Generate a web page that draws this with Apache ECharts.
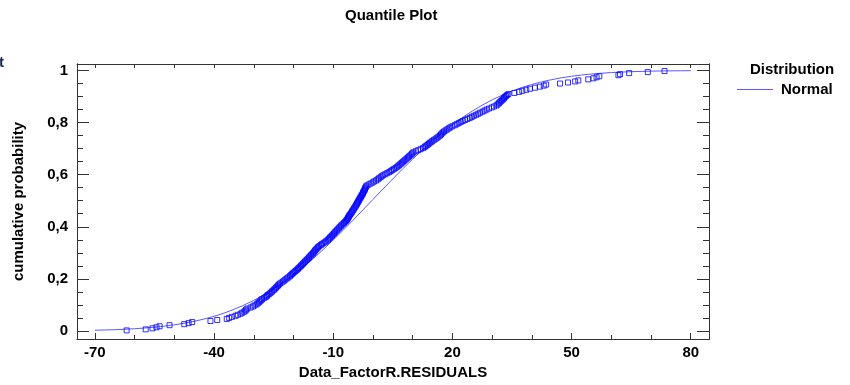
<!DOCTYPE html>
<html>
<head>
<meta charset="utf-8">
<script src="https://cdn.jsdelivr.net/npm/echarts@6/dist/echarts.min.js"></script>
<style>html,body{margin:0;padding:0;background:#fff}#c{width:850px;height:385px}</style>
</head>
<body>
<div id="c"></div>
<script>
// Sorted residuals
const residuals = [
 -62.0,-57.2,-55.5,-54.5,-53.7,-51.2,-47.5,-46.4,-45.5,-40.9,-39.2,
 -36.8,-36.2,-35.5,-34.6,-34.0,-33.3,-32.9,-32.4,-32.1,-31.9,-31.6,-30.8,-30.2,-29.8,-29.3,
 -29.0,-28.7,-28.4,-28.1,-27.9,-27.4,-27.0,-26.7,-26.5,-26.1,-25.8,-25.5,
 -25.3,-24.9,-24.7,-24.4,-24.2,-23.9,-23.7,-23.4,
 -23.0,-22.6,-22.3,-22.0,-21.6,-21.3,-20.9,
 -20.7,-20.4,-20.1,-19.8,-19.5,-19.2,-18.9,-18.7,-18.4,
 -18.1,-17.9,-17.6,-17.4,-17.1,-16.9,-16.6,-16.3,-16.1,-15.9,
 -15.6,-15.4,-15.1,-14.9,-14.7,-14.5,-14.3,-14.0,-13.8,
 -13.5,-13.1,-12.8,-12.4,-12.0,-11.7,-11.3,
 -11.1,-10.8,-10.6,-10.3,-10.1,-9.8,-9.6,-9.4,-9.1,
 -8.9,-8.6,-8.4,-8.1,-7.9,-7.6,-7.3,-7.1,-6.8,-6.6,
 -6.4,-6.3,-6.1,-6.0,-5.8,-5.6,-5.4,-5.3,-5.1,-4.9,-4.8,-4.6,-4.4,
 -4.3,-4.1,-4.0,-3.8,-3.7,-3.5,-3.4,-3.2,-3.1,-2.9,-2.8,
 -2.6,-2.5,-2.4,-2.2,-2.1,-2.0,-1.9,-1.7,-1.6,
 -1.1,-0.6,-0.1,0.3,0.8,1.2,1.5,1.9,2.2,
 2.6,3.1,3.6,4.1,4.5,4.9,5.3,5.7,6.1,6.4,6.7,7.0,7.3,7.6,7.9,
 8.2,8.5,8.8,9.1,9.4,9.7,9.9,10.2,
 10.8,11.4,12.0,12.6,
 13.0,13.3,13.7,14.0,14.3,14.7,
 15.0,15.4,15.8,16.2,16.5,16.9,
 17.1,17.3,17.6,17.9,18.3,18.7,19.1,19.5,
 20.0,20.6,21.1,21.6,22.1,
 22.6,23.2,23.8,
 24.4,24.9,25.4,26.0,
 26.5,27.0,27.6,28.1,28.6,
 29.2,29.9,30.5,31.1,
 31.4,31.7,31.9,32.2,32.5,32.8,
 33.0,33.2,33.5,33.8,34.1,
 35.6,36.8,37.6,38.6,39.5,40.8,42.0,43.0,43.6,
 47.1,49.1,50.9,51.7,54.2,55.5,56.3,57.0,61.8,62.2,64.5,69.2,73.4
];

// Fitted normal distribution curve
const normalX = [-70,-67.5,-65,-62.5,-60,-57.5,-55,-52.5,-50,-47.5,-45,-42.5,-40,-37.5,-35,-32.5,-30,-27.5,-25,-22.5,-20,-17.5,-15,-12.5,-10,-7.5,-5,-2.5,0,2.5,5,7.5,10,12.5,15,17.5,20,22.5,25,27.5,30,32.5,35,37.5,40,42.5,45,47.5,50,52.5,55,57.5,60,62.5,65,67.5,70,72.5,75,77.5,80];
const normalP = [0.0027,0.0036,0.0048,0.0064,0.0085,0.0111,0.0143,0.0184,0.0234,0.0295,0.0369,0.0457,0.0561,0.0683,0.0826,0.0989,0.1174,0.1383,0.1616,0.1873,0.2154,0.2458,0.2783,0.3129,0.3490,0.3866,0.4254,0.4650,0.5048,0.5445,0.5839,0.6225,0.6598,0.6958,0.7297,0.7617,0.7916,0.8192,0.8442,0.8668,0.8872,0.9052,0.9210,0.9347,0.9465,0.9565,0.9650,0.9721,0.9779,0.9827,0.9865,0.9896,0.9921,0.9940,0.9955,0.9966,0.9975,0.9982,0.9987,0.9991,0.9993];

const xMajorTicks = [-70,-40,-10,20,50,80];
const xMinorTicks = [-70,-60,-50,-40,-30,-20,-10,0,10,20,30,40,50,60,70,80];
const yMajorTicks = [0,0.2,0.4,0.6,0.8,1];
const yTickLabels = ['0','0,2','0,4','0,6','0,8','1'];
const yMinorTicks = [0,0.05,0.1,0.15,0.2,0.25,0.3,0.35,0.4,0.45,0.5,0.55,0.6,0.65,0.7,0.75,0.8,0.85,0.9,0.95,1];

const n = residuals.length;
const ecdf = residuals.map((x, i) => [x, (i + 0.5) / n]);
const curve = normalX.map((x, i) => [x, normalP[i]]);

const FONT = 'Liberation Sans';
const XMIN = -74.5, XMAX = 84.6, YMIN = -0.031, YMAX = 1.025;
const frame = {show: true, onZero: false, lineStyle: {color: '#333', width: 1}};
const none = {show: false};

function xAx(pos, ticks, len, extra) {
  return Object.assign({
    type: 'value', position: pos, min: XMIN, max: XMAX, gridIndex: 0,
    axisLine: frame, splitLine: none,
    axisTick: {show: true, inside: true, length: len, customValues: ticks, lineStyle: {color: '#333'}},
    axisLabel: {show: false}
  }, extra || {});
}
function yAx(pos, ticks, len, extra) {
  return Object.assign({
    type: 'value', position: pos, min: YMIN, max: YMAX, gridIndex: 0,
    axisLine: frame, splitLine: none,
    axisTick: {show: true, inside: true, length: len, customValues: ticks, lineStyle: {color: '#333'}},
    axisLabel: {show: false}
  }, extra || {});
}

const chart = echarts.init(document.getElementById('c'), null, {renderer: 'canvas'});
chart.setOption({
  animation: false,
  backgroundColor: '#fff',
  title: {
    text: 'Quantile Plot', left: 340, top: 3,
    textStyle: {fontFamily: FONT, fontWeight: 'bold', fontSize: 15, color: '#000'}
  },
  legend: {
    left: 732, top: 77, orient: 'vertical',
    data: [{name: 'Normal', icon: 'rect'}],
    itemWidth: 36, itemHeight: 1.2,
    textStyle: {fontFamily: FONT, fontWeight: 'bold', fontSize: 15, color: '#000', padding: [0, 0, 0, 3]}
  },
  graphic: [
    {type: 'text', left: 750, top: 62, style: {text: 'Distribution', fontFamily: FONT, fontWeight: 'bold', fontSize: 15, fill: '#000'}},
    {type: 'text', left: -1, top: 55, style: {text: 't', fontFamily: FONT, fontWeight: 'bold', fontSize: 15, fill: '#1a2a4a'}}
  ],
  grid: {left: 77, top: 64, width: 632, height: 275, containLabel: false},
  xAxis: [
    xAx('bottom', xMajorTicks, 6, {
      axisLabel: {show: true, customValues: xMajorTicks, margin: 6, fontFamily: FONT, fontWeight: 'bold', fontSize: 15, color: '#000'},
      name: 'Data_FactorR.RESIDUALS', nameLocation: 'middle', nameGap: 25,
      nameTextStyle: {fontFamily: FONT, fontWeight: 'bold', fontSize: 15, color: '#000'}
    }),
    xAx('bottom', xMinorTicks, 4),
    xAx('top', xMinorTicks, 4)
  ],
  yAxis: [
    yAx('left', yMajorTicks, 12, {
      axisLabel: {show: true, customValues: yMajorTicks, margin: 9, fontFamily: FONT, fontWeight: 'bold', fontSize: 15, color: '#000',
        formatter: v => yTickLabels[yMajorTicks.findIndex(t => Math.abs(t - v) < 1e-9)]},
      name: 'cumulative probability', nameLocation: 'middle', nameGap: 51, nameRotate: 90,
      nameTextStyle: {fontFamily: FONT, fontWeight: 'bold', fontSize: 15, color: '#000'}
    }),
    yAx('left', yMinorTicks, 6),
    yAx('right', yMajorTicks, 12),
    yAx('right', yMinorTicks, 6)
  ],
  series: [
    {
      name: 'Normal', type: 'line', xAxisIndex: 0, yAxisIndex: 0,
      data: curve, showSymbol: false, symbol: 'none', smooth: false,
      lineStyle: {color: '#5a5aff', width: 1}, itemStyle: {color: '#5a5aff'}, z: 2
    },
    {
      name: 'Data', type: 'scatter', xAxisIndex: 0, yAxisIndex: 0,
      data: ecdf, symbol: 'rect', symbolSize: 5,
      itemStyle: {color: 'rgba(0,0,0,0)', borderColor: '#0000ff', borderWidth: 1}, z: 3
    }
  ]
});
</script>
</body>
</html>
